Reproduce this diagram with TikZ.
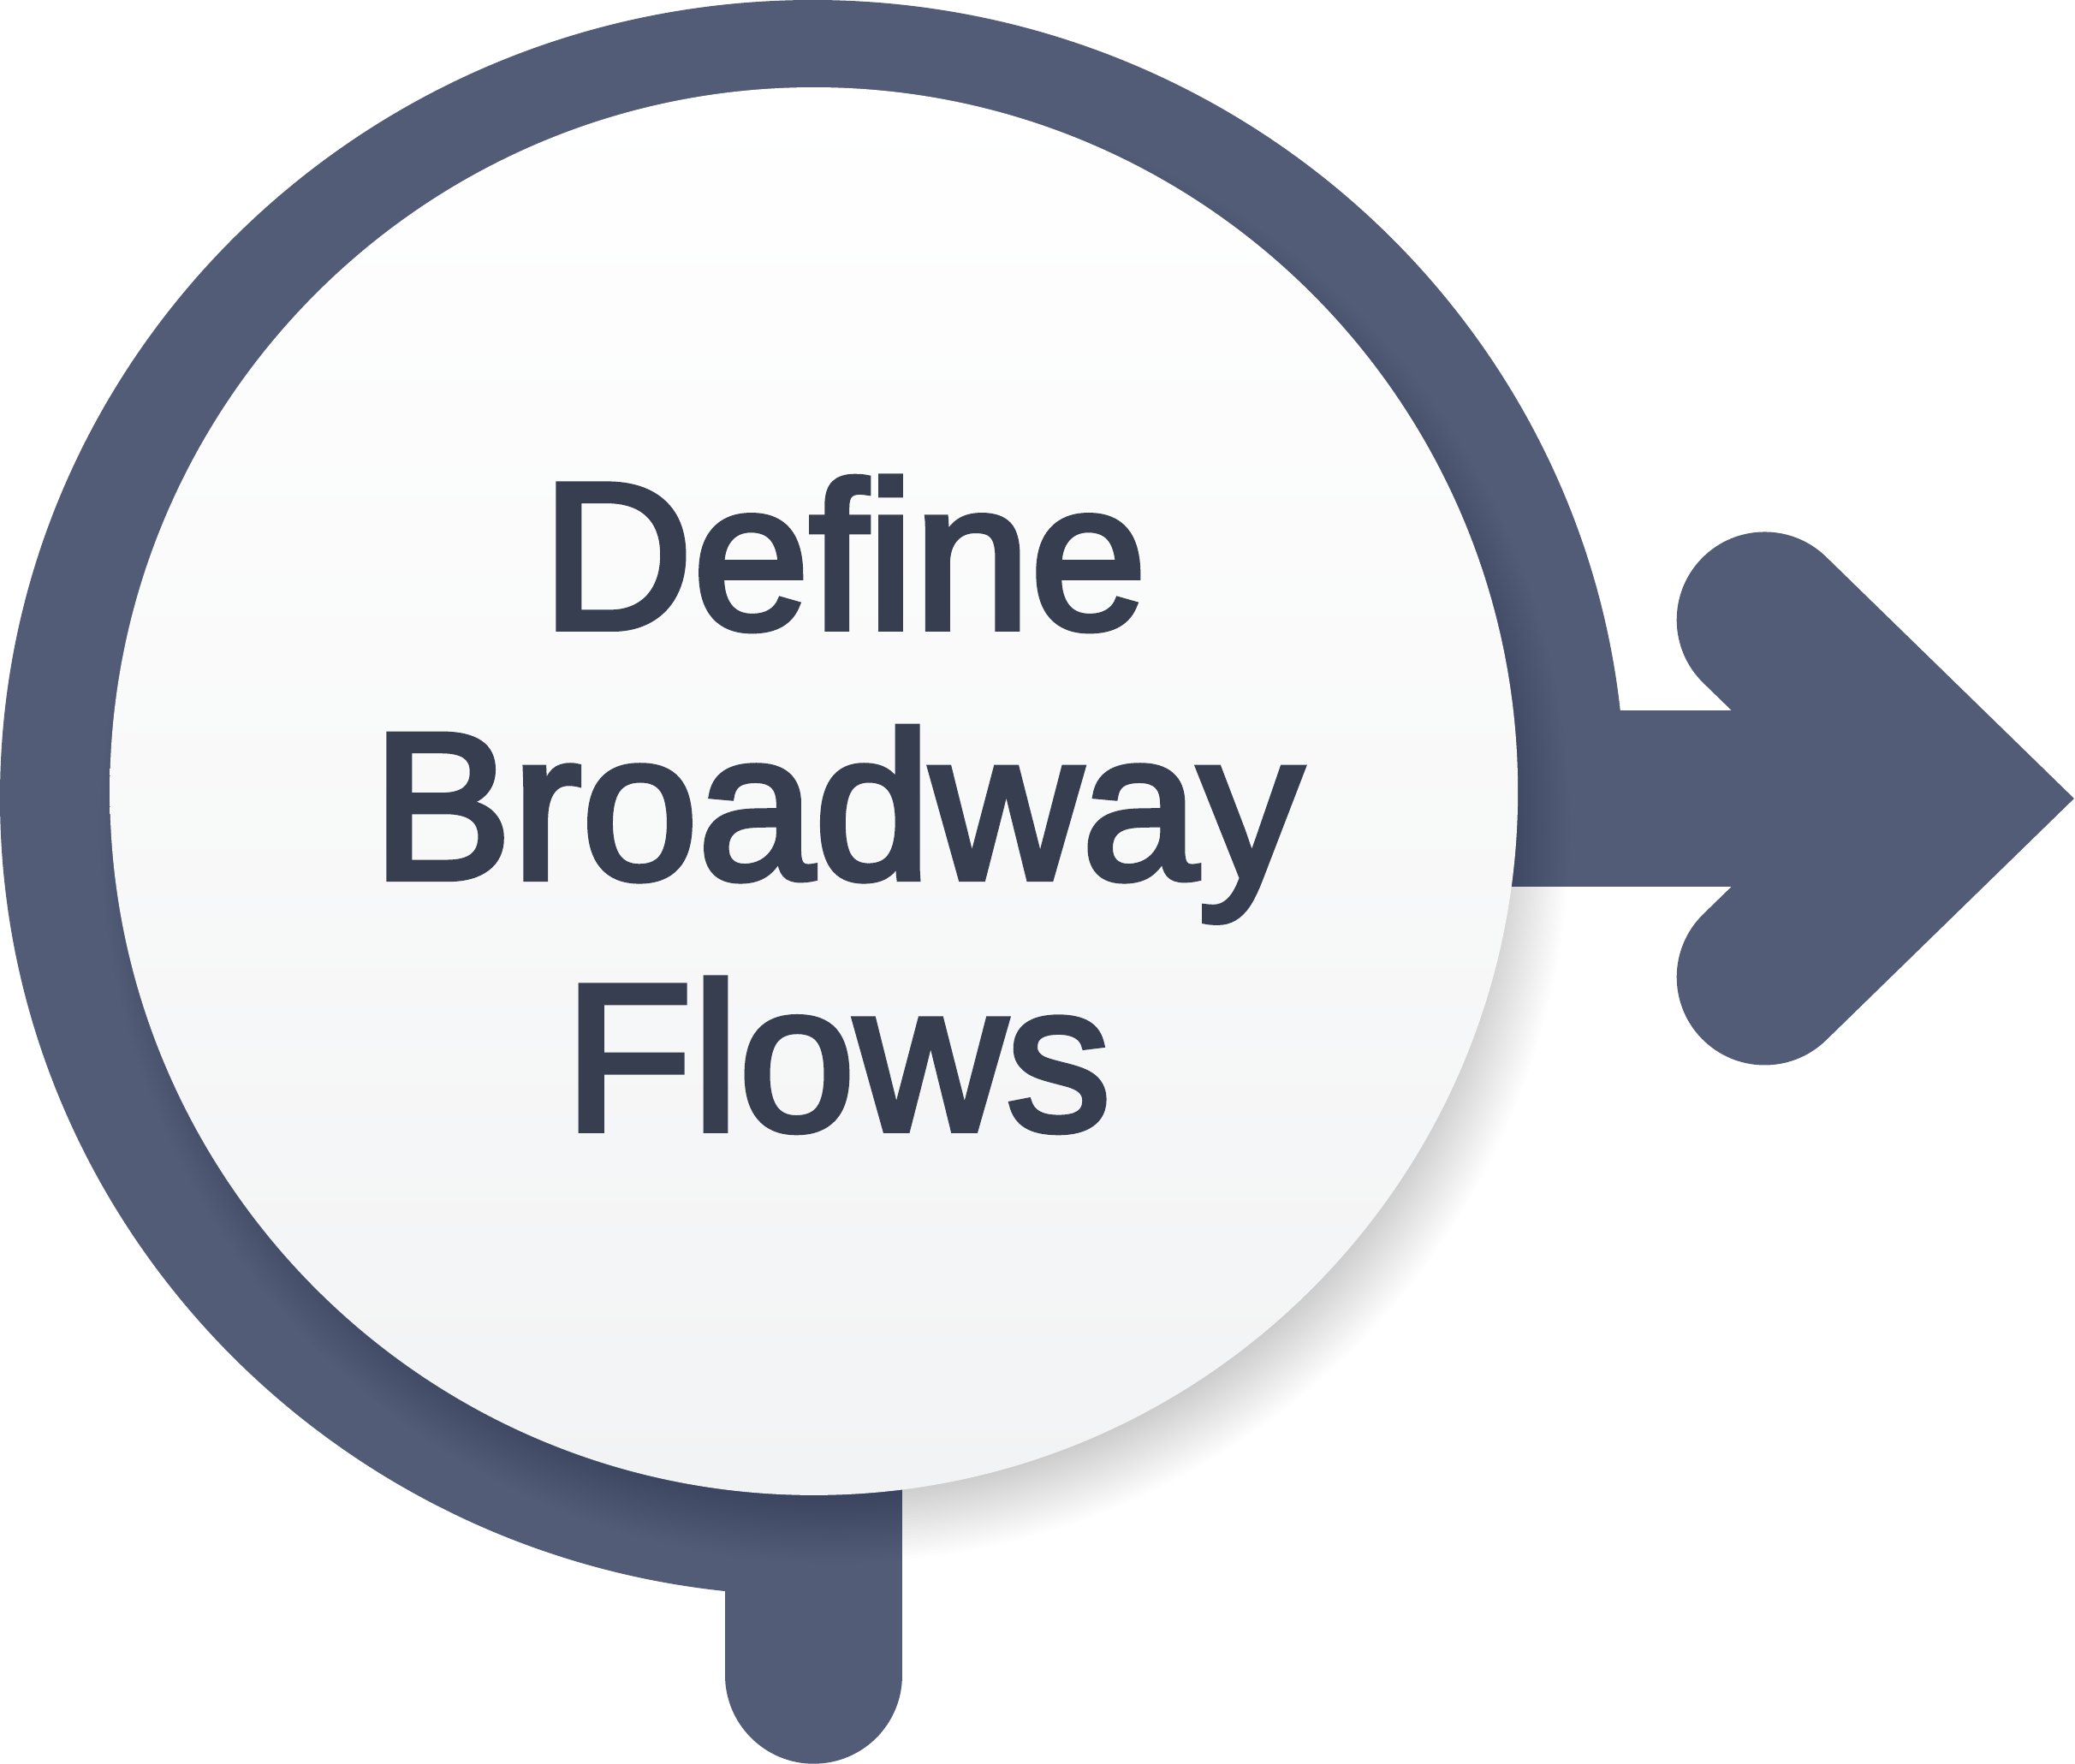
\documentclass[tikz,border=0pt]{standalone}
\usepackage{fontspec}
\newfontfamily\flowfont{Liberation Sans}[FakeBold=3]
\usetikzlibrary{calc}
\definecolor{ringblue}{RGB}{82,92,119}
\definecolor{flowtext}{RGB}{54,62,80}
\definecolor{discgrey}{RGB}{242,243,244}

\tikzset{
  flowlabel/.style={text=flowtext, inner sep=0pt, font=\flowfont\fontsize{45}{54}\selectfont},
  ringstroke/.style={draw=ringblue, line width=1.33cm}
}

\begin{document}
\begin{tikzpicture}

\useasboundingbox (0,0) rectangle (15.68,13.33);

% Centre du disque et de l'anneau
\coordinate (disc) at (6.15,7.35);
\coordinate (ring) at (6.14,7.30);

% Anneau ouvert (sans le quart bas-droite)
\begin{scope}
  \clip (-1,-1) -- (5.48,-1) -- (5.48,7.96) -- (17,7.96) -- (17,14) -- (-1,14) -- cycle;
  \fill[ringblue] (ring) ellipse [x radius=6.14, y radius=6.03];
\end{scope}

% Tige du bas
\draw[ringstroke, line width=1.34cm, line cap=round] (6.15,7.30) -- (6.15,0.67);

% Barre et pointe de fleche
\draw[ringstroke] (10.0,7.295) -- (14.70,7.295);
\draw[ringstroke, line cap=round] (13.335,8.645) -- (14.72,7.295) -- (13.335,5.945);

% Ombre portee du disque
\foreach \i in {1,...,25} {
  \fill[black, opacity=0.008] ($(disc)+(0.16,-0.28)$) circle (5.0+0.022*\i);
}

% Disque blanc
\shade[top color=white, bottom color=discgrey] (disc) circle (5.32);

% Texte
\node[flowlabel, anchor=base] (define) at (6.38,8.58) {Define};
\node[flowlabel, anchor=base] (broadway) at (6.33,6.69) {Broadway};
\node[flowlabel, anchor=base] (flows) at (6.33,4.79) {Flows};

\end{tikzpicture}
\end{document}
